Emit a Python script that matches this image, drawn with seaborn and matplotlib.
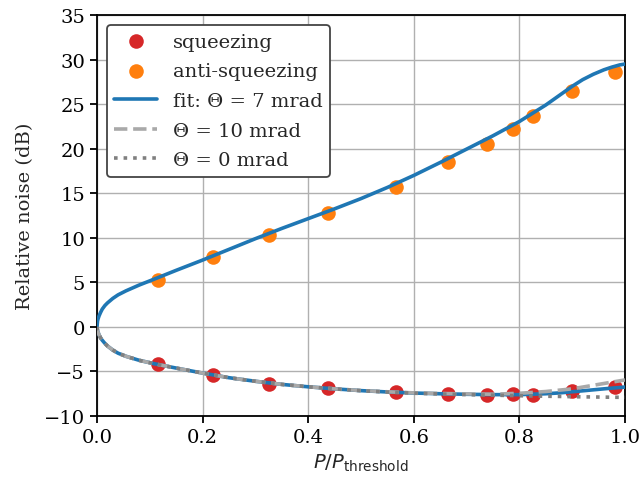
import numpy as np
import seaborn as sns
import matplotlib.pyplot as plt

# measured points (P / P_threshold, noise in dB)
p_meas = [0.115, 0.219, 0.325, 0.437, 0.567, 0.665, 0.739, 0.787, 0.826, 0.900, 0.981]
sqz_meas = [-4.14, -5.45, -6.39, -6.88, -7.33, -7.52, -7.63, -7.52, -7.60, -7.22, -6.77]
anti_meas = [5.25, 7.90, 10.30, 12.77, 15.75, 18.55, 20.55, 22.25, 23.65, 26.45, 28.60]

# model curves
p_fit = [0.000, 0.001, 0.002, 0.004, 0.007, 0.010, 0.015, 0.020, 0.030, 0.040,
         0.055, 0.080, 0.110, 0.150, 0.200, 0.250, 0.300, 0.350, 0.400, 0.450,
         0.500, 0.550, 0.600, 0.650, 0.700, 0.750, 0.800, 0.850, 0.875, 0.900,
         0.920, 0.940, 0.960, 0.975, 0.990, 1.000]
anti_fit7 = [0.0, 0.65, 0.9, 1.25, 1.65, 2.0, 2.4, 2.7, 3.2, 3.6,
             4.05, 4.7, 5.4, 6.35, 7.5, 8.7, 9.9, 11.05, 12.15, 13.25,
             14.4, 15.65, 17.0, 18.45, 19.95, 21.45, 23.05, 24.9, 25.95, 27.0,
             27.75, 28.35, 28.85, 29.15, 29.4, 29.5]
sqz_fit7 = [0.0, -0.4, -0.6, -0.9, -1.25, -1.5, -1.85, -2.15, -2.6, -2.95,
            -3.3, -3.75, -4.15, -4.62, -5.18, -5.7, -6.1, -6.45, -6.72, -6.95,
            -7.15, -7.3, -7.42, -7.5, -7.56, -7.6, -7.6, -7.5, -7.41, -7.28,
            -7.17, -7.06, -6.95, -6.87, -6.8, -6.75]
sqz_theta10 = [0.0, -0.4, -0.6, -0.9, -1.25, -1.5, -1.85, -2.15, -2.6, -2.95,
               -3.3, -3.75, -4.15, -4.62, -5.18, -5.7, -6.1, -6.45, -6.72, -6.95,
               -7.14, -7.28, -7.4, -7.47, -7.52, -7.55, -7.45, -7.25, -7.1, -6.95,
               -6.75, -6.55, -6.35, -6.2, -6.05, -5.95]
sqz_theta0 = [0.0, -0.4, -0.6, -0.9, -1.25, -1.5, -1.85, -2.15, -2.6, -2.95,
              -3.3, -3.75, -4.15, -4.62, -5.18, -5.7, -6.1, -6.45, -6.72, -6.95,
              -7.16, -7.31, -7.44, -7.53, -7.6, -7.66, -7.72, -7.78, -7.8, -7.83,
              -7.85, -7.86, -7.88, -7.89, -7.9, -7.9]

sns.set_style("ticks")
plt.rcParams['font.family'] = ['DejaVu Serif']
plt.rcParams['mathtext.fontset'] = 'dejavusans'
fs = 14

fig = plt.figure(figsize=(6.41, 4.81), dpi=100)
ax = fig.add_axes([0.1513, 0.133, 0.8237, 0.8337])

sns.scatterplot(x=p_meas, y=sqz_meas, color='#d62728', s=110, linewidth=0,
                label='squeezing', ax=ax, zorder=2)
sns.scatterplot(x=p_meas, y=anti_meas, color='#ff7f0e', s=110, linewidth=0,
                label='anti-squeezing', ax=ax, zorder=2)
sns.lineplot(x=p_fit, y=sqz_fit7, color='#1f77b4', lw=2.6, label='fit: Θ = 7 mrad',
             ax=ax, zorder=3)
sns.lineplot(x=p_fit, y=anti_fit7, color='#1f77b4', lw=2.6, ax=ax, zorder=3)
sns.lineplot(x=p_fit, y=sqz_theta10, color='#a9a9a9', lw=2.6, linestyle='--',
             label='Θ = 10 mrad', ax=ax, zorder=4)
sns.lineplot(x=p_fit, y=sqz_theta0, color='#808080', lw=2.6, linestyle=':',
             label='Θ = 0 mrad', ax=ax, zorder=5)

ax.set_xlim(0, 1)
ax.set_ylim(-10, 35)
ax.set_xticks(np.arange(0, 1.01, 0.2))
ax.set_yticks(np.arange(-10, 36, 5))
ax.grid(True, color='#b0b0b0', lw=1)
ax.set_axisbelow(True)
for s in ax.spines.values():
    s.set_visible(True)
    s.set_color('k')
    s.set_linewidth(1.3)
ax.tick_params(labelsize=fs, length=5, width=1.3, color='k', labelcolor='k')

ax.set_xlabel(r'$P/P_\mathrm{threshold}$', fontsize=fs)
ax.set_ylabel('Relative noise (dB)', fontsize=fs, labelpad=7)

leg = ax.legend(loc='upper left', fontsize=fs, handlelength=2.2, framealpha=1,
                borderaxespad=0.5, labelspacing=0.6)
leg.get_frame().set_edgecolor('#444444')
leg.get_frame().set_linewidth(1.3)

plt.savefig('out.png', dpi=100)
